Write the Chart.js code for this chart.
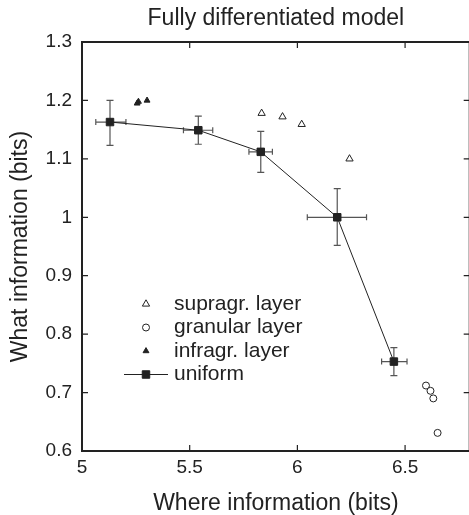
<!DOCTYPE html>
<html>
<head>
<meta charset="utf-8">
<script src="https://cdn.jsdelivr.net/npm/chart.js@4"></script>
<style>
  html, body { margin: 0; padding: 0; background: #fff; overflow: hidden; }
</style>
</head>
<body>
<canvas id="chart" width="476" height="515"></canvas>
<script>
// values
const titleText = "Fully differentiated model";
const xTitle = "Where information (bits)";
const yTitle = "What information (bits)";

const xTicks = [5, 5.5, 6, 6.5];
const xTickLabels = ["5", "5.5", "6", "6.5"];
const yTicks = [0.6, 0.7, 0.8, 0.9, 1.0, 1.1, 1.2, 1.3];
const yTickLabels = ["0.6", "0.7", "0.8", "0.9", "1", "1.1", "1.2", "1.3"];

const supraX = [5.834, 5.931, 6.020, 6.242];
const supraY = [1.178, 1.172, 1.159, 1.100];

const granX = [6.597, 6.618, 6.631, 6.651];
const granY = [0.712, 0.703, 0.690, 0.631];

const infraX = [5.256, 5.262, 5.302];
const infraY = [1.195, 1.198, 1.200];

const uniX = [5.130, 5.540, 5.830, 6.185, 6.448];
const uniY = [1.163, 1.149, 1.112, 1.000, 0.753];
const uniXLow = [5.064, 5.471, 5.775, 6.046, 6.391];
const uniXHigh = [5.204, 5.607, 5.884, 6.321, 6.509];
const uniYLow = [1.123, 1.125, 1.077, 0.952, 0.729];
const uniYHigh = [1.200, 1.173, 1.147, 1.049, 0.777];

const ink = "#222";
const fontFamily = "'Liberation Sans', Arial, sans-serif";

function pts(xs, ys) {
    return xs.map((x, i) => ({ x: x, y: ys[i] }));
}

// error bars for the uniform series
const errorBars = {
    id: "errorBars",
    beforeDatasetsDraw(chart) {
        const ctx = chart.ctx;
        const xs = chart.scales.x, ys = chart.scales.y;
        ctx.save();
        ctx.strokeStyle = "#555";
        ctx.lineWidth = 1.2;
        uniX.forEach((x, i) => {
            const px = xs.getPixelForValue(x), py = ys.getPixelForValue(uniY[i]);
            const x0 = xs.getPixelForValue(uniXLow[i]), x1 = xs.getPixelForValue(uniXHigh[i]);
            const y0 = ys.getPixelForValue(uniYLow[i]), y1 = ys.getPixelForValue(uniYHigh[i]);
            ctx.beginPath();
            ctx.moveTo(x0, py); ctx.lineTo(x1, py);
            ctx.moveTo(x0, py - 3); ctx.lineTo(x0, py + 3);
            ctx.moveTo(x1, py - 3); ctx.lineTo(x1, py + 3);
            ctx.moveTo(px, y0); ctx.lineTo(px, y1);
            ctx.moveTo(px - 3.5, y0); ctx.lineTo(px + 3.5, y0);
            ctx.moveTo(px - 3.5, y1); ctx.lineTo(px + 3.5, y1);
            ctx.stroke();
        });
        ctx.restore();
    }
};

// box round the plot with inward ticks
const frame = {
    id: "frame",
    afterDraw(chart) {
        const ctx = chart.ctx;
        const a = chart.chartArea;
        const xs = chart.scales.x, ys = chart.scales.y;
        const tl = 6;
        ctx.save();
        ctx.strokeStyle = ink;
        ctx.lineWidth = 1.2;
        ctx.beginPath();
        xTicks.forEach(v => {
            const px = xs.getPixelForValue(v);
            ctx.moveTo(px, a.bottom); ctx.lineTo(px, a.bottom - tl);
            ctx.moveTo(px, a.top); ctx.lineTo(px, a.top + tl);
        });
        yTicks.forEach(v => {
            const py = ys.getPixelForValue(v);
            ctx.moveTo(a.left, py); ctx.lineTo(a.left + tl, py);
            ctx.moveTo(a.right, py); ctx.lineTo(a.right - tl, py);
        });
        ctx.stroke();
        ctx.lineWidth = 2;
        ctx.strokeRect(a.left, a.top, a.right - a.left, a.bottom - a.top);
        ctx.restore();
    }
};

// title centred over the plot area
const plotTitle = {
    id: "plotTitle",
    afterDraw(chart) {
        const ctx = chart.ctx;
        const a = chart.chartArea;
        ctx.save();
        ctx.fillStyle = ink;
        ctx.font = "23px " + fontFamily;
        ctx.textAlign = "center";
        ctx.textBaseline = "middle";
        ctx.fillText(titleText, (a.left + a.right) / 2, 19);
        ctx.restore();
    }
};

// legend inside the plot, lower left
const innerLegend = {
    id: "innerLegend",
    afterDraw(chart) {
        const ctx = chart.ctx;
        const mx = 146, tx = 174, y0 = 304, dy = 23.5;
        ctx.save();
        ctx.font = "21px " + fontFamily;
        ctx.textBaseline = "middle";
        ctx.fillStyle = ink;
        ctx.strokeStyle = ink;
        chart.data.datasets.forEach((ds, i) => {
            const y = y0 + i * dy;
            ctx.lineWidth = 1;
            if (ds.showLine) {
                ctx.beginPath();
                ctx.moveTo(124, y); ctx.lineTo(168, y);
                ctx.stroke();
            }
            ctx.beginPath();
            if (ds.pointStyle === "triangle") {
                const r = ds.pointRadius;
                ctx.moveTo(mx, y - r);
                ctx.lineTo(mx + r * 0.866, y + r * 0.5);
                ctx.lineTo(mx - r * 0.866, y + r * 0.5);
                ctx.closePath();
            } else if (ds.pointStyle === "circle") {
                ctx.arc(mx, y, ds.pointRadius, 0, Math.PI * 2);
            } else {
                const s = ds.pointRadius * Math.SQRT1_2;
                ctx.rect(mx - s, y - s, 2 * s, 2 * s);
            }
            ctx.fillStyle = ds.pointBackgroundColor;
            ctx.fill();
            ctx.stroke();
            ctx.fillStyle = ink;
            ctx.fillText(ds.label, tx, y);
        });
        ctx.restore();
    }
};

new Chart(document.getElementById("chart"), {
    type: "scatter",
    data: {
        datasets: [
            {
                label: "supragr. layer",
                data: pts(supraX, supraY),
                pointStyle: "triangle",
                pointRadius: 4.2,
                pointBackgroundColor: "#fff",
                pointBorderColor: ink,
                pointBorderWidth: 1
            },
            {
                label: "granular layer",
                data: pts(granX, granY),
                pointStyle: "circle",
                pointRadius: 3.5,
                pointBackgroundColor: "#fff",
                pointBorderColor: ink,
                pointBorderWidth: 1
            },
            {
                label: "infragr. layer",
                data: pts(infraX, infraY),
                pointStyle: "triangle",
                pointRadius: 3.4,
                pointBackgroundColor: ink,
                pointBorderColor: ink,
                pointBorderWidth: 1
            },
            {
                label: "uniform",
                data: pts(uniX, uniY),
                showLine: true,
                borderColor: ink,
                borderWidth: 1,
                pointStyle: "rect",
                pointRadius: 5.3,
                pointBackgroundColor: ink,
                pointBorderColor: ink,
                pointBorderWidth: 1
            }
        ]
    },
    options: {
        responsive: false,
        animation: false,
        layout: { padding: { top: 42, right: 2, left: 0, bottom: 0 } },
        plugins: {
            legend: { display: false },
            title: { display: false },
            tooltip: { enabled: false }
        },
        scales: {
            x: {
                type: "linear",
                min: 5,
                max: 6.8,
                afterBuildTicks: scale => { scale.ticks = xTicks.map(v => ({ value: v })); },
                afterFit: scale => { scale.height = 64; },
                grid: { display: false, drawTicks: false },
                border: { display: false },
                ticks: {
                    padding: 5,
                    color: ink,
                    font: { family: fontFamily, size: 19 },
                    callback: (v, i) => xTickLabels[i]
                },
                title: {
                    display: true,
                    text: xTitle,
                    color: ink,
                    font: { family: fontFamily, size: 23, lineHeight: 1 },
                    padding: { top: 0, bottom: 0 }
                }
            },
            y: {
                type: "linear",
                min: 0.6,
                max: 1.3,
                afterBuildTicks: scale => { scale.ticks = yTicks.map(v => ({ value: v })); },
                afterFit: scale => { scale.width = 82; },
                grid: { display: false, drawTicks: false },
                border: { display: false },
                ticks: {
                    padding: 10,
                    color: ink,
                    font: { family: fontFamily, size: 19 },
                    callback: (v, i) => yTickLabels[i]
                },
                title: {
                    display: true,
                    text: yTitle,
                    color: ink,
                    font: { family: fontFamily, size: 23, lineHeight: 1 },
                    padding: { top: 9, bottom: 0 }
                }
            }
        }
    },
    plugins: [errorBars, frame, plotTitle, innerLegend]
});
</script>
</body>
</html>
